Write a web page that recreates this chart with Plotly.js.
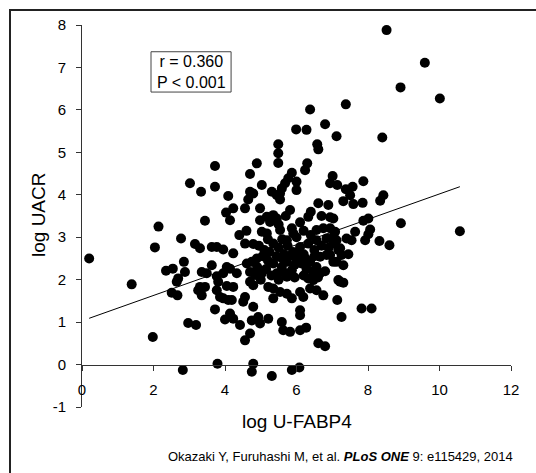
<!DOCTYPE html>
<html>
<head>
<meta charset="utf-8">
<script src="https://cdn.plot.ly/plotly-3.0.1.min.js"></script>
<style>html,body{margin:0;padding:0;background:#fff;}#chart{width:536px;height:473px;}</style>
</head>
<body>
<div id="chart"></div>
<script>
// log U-FABP4 (x) and log UACR (y)
const xValues = [
0.20,1.39,1.98,2.04,2.14,2.35,2.54,2.77,2.85,2.88,2.69,2.65,2.51,2.67,2.97,3.19,2.82,3.79,
3.02,3.33,3.72,3.72,4.09,4.03,4.14,3.44,3.16,3.30,3.63,3.77,3.95,3.63,3.35,3.49,4.05,3.95,
3.77,3.81,3.77,3.30,3.44,3.25,3.35,4.05,3.95,4.09,3.72,4.00,
6.38,5.99,6.28,6.80,7.12,5.49,5.49,5.49,6.58,6.61,4.89,4.70,6.30,6.24,5.87,5.77,5.68,6.00,
6.00,5.59,5.54,5.03,5.31,5.45,5.54,4.70,4.79,4.65,4.56,4.23,4.98,5.17,5.35,5.26,4.98,5.45,
5.82,6.33,6.61,6.89,6.70,6.94,5.03,5.17,5.54,5.87,5.91,6.56,6.75,
4.56,4.79,5.35,5.73,6.10,6.33,6.56,6.84,7.03,4.23,4.75,4.61,4.89,5.45,5.35,5.59,5.73,6.00,
6.14,6.38,6.66,6.84,7.03,4.14,4.33,4.70,4.84,5.03,5.45,5.63,5.87,5.73,6.28,6.56,6.66,6.33,
6.47,7.17,4.70,4.79,4.23,5.21,5.35,5.54,5.73,5.87,5.35,6.10,6.19,6.38,6.56,6.75,3.86,4.19,
4.56,4.79,4.51,6.10,6.10,4.14,4.23,4.75,4.93,4.98,5.21,4.42,5.59,5.63,5.82,6.10,6.27,4.70,
4.56,6.61,6.80,4.79,4.75,5.31,5.87,6.08,
8.52,9.59,8.91,10.01,7.38,8.40,7.01,6.94,7.14,7.38,7.57,7.50,7.87,8.43,8.34,7.31,7.59,7.85,
7.03,7.87,8.01,8.92,10.57,6.94,7.08,7.03,7.12,7.64,8.06,8.01,7.40,7.54,7.92,8.32,8.60,7.22,
6.94,7.17,7.26,7.45,7.12,7.31,7.22,7.31,7.14,7.82,8.10,7.26,
4.40,4.60,5.10,5.25,5.50,5.65,5.90,5.20,5.60,6.00,6.20,5.95,5.15,6.50,6.70,6.20,6.40,
5.05,5.20,5.60,5.80,6.05,6.25,6.50,6.45,6.20,5.95,5.50,5.00,4.90,5.30,6.80,6.60,6.90,5.75,
4.95,5.50,6.10,6.40,5.70
];
const yValues = [
2.50,1.89,0.65,2.76,3.25,2.21,2.26,2.97,2.42,2.18,2.03,1.95,1.69,1.63,0.98,0.93,-0.13,0.02,
4.27,4.07,4.68,4.19,3.97,3.58,3.40,3.39,2.84,2.74,2.77,2.77,2.71,2.34,2.18,2.15,2.30,2.15,
2.08,1.95,1.75,1.83,1.83,1.75,1.63,1.85,1.56,1.52,1.30,1.06,
6.01,5.54,5.53,5.66,5.38,5.19,4.98,4.75,5.19,5.07,4.74,4.49,4.74,4.58,4.52,4.39,4.27,4.31,
4.11,4.15,4.03,4.23,4.07,3.99,3.89,4.07,4.03,3.89,3.68,3.68,3.68,3.48,3.52,3.36,3.40,3.44,
3.64,3.48,3.80,3.76,3.50,3.47,3.13,3.09,3.17,3.21,3.09,3.17,3.21,
2.85,2.84,2.85,2.93,2.77,2.85,2.93,2.97,2.85,2.62,2.42,2.38,2.50,2.54,2.38,2.30,2.42,2.50,
2.38,2.42,2.54,2.58,2.42,2.26,2.15,2.18,2.11,2.15,2.15,2.18,2.22,2.07,2.26,2.30,2.15,2.03,
1.99,1.99,1.95,1.87,1.83,1.83,1.79,1.71,1.67,1.56,1.56,1.71,1.59,1.79,1.75,1.63,1.59,1.52,
1.59,1.36,1.48,1.28,1.16,1.20,1.08,1.04,1.12,0.97,1.08,0.93,1.00,0.81,0.77,0.81,0.87,0.73,
0.57,0.50,0.43,0.02,-0.17,-0.27,-0.13,-0.07,
7.88,7.11,6.53,6.27,6.13,5.35,4.44,4.27,4.23,4.13,4.19,3.99,4.32,3.99,3.86,3.85,3.78,3.81,
3.44,3.39,3.44,3.33,3.14,3.21,3.13,3.01,2.93,3.13,3.18,3.07,2.97,2.93,2.93,2.91,2.81,2.74,
2.58,2.70,2.58,2.60,2.42,2.34,1.95,1.93,1.52,1.32,1.32,1.12,
3.05,3.15,2.70,2.65,2.75,2.60,2.65,2.95,2.95,3.00,2.60,2.35,2.25,2.70,2.80,3.15,3.05,
2.55,2.45,2.50,2.55,2.65,2.50,2.55,2.20,2.10,2.05,2.00,2.00,2.30,2.10,2.20,2.05,2.75,2.80,
2.80,3.30,3.35,3.60,3.50
];
const xTicks = [0, 2, 4, 6, 8, 10, 12];
const yTicks = [-1, 0, 1, 2, 3, 4, 5, 6, 7, 8];
const rText = "r = 0.360";
const pText = "P < 0.001";
const fitIntercept = 1.03;
const fitSlope = 0.299;
const xTitle = "log U-FABP4";
const yTitle = "log UACR";
const citation = "Okazaki Y, Furuhashi M, et al. <b><i>PLoS ONE</i></b> 9: e115429, 2014";

const xMin = Math.min(...xValues), xMax = Math.max(...xValues);
const fitX = [xMin, xMax];
const fitY = fitX.map(v => fitIntercept + fitSlope * v);

const FONT = "Liberation Sans, Arial, Helvetica, sans-serif";

const traces = [
  {x: xValues, y: yValues, type: 'scatter', mode: 'markers',
   marker: {color: '#000', size: 10, line: {width: 0}}, hoverinfo: 'x+y'},
  {x: fitX, y: fitY, type: 'scatter', mode: 'lines',
   line: {color: '#000', width: 1}, hoverinfo: 'skip'}
];

const layout = {
  width: 536, height: 473,
  margin: {l: 82, r: 25, t: 25, b: 66, pad: 0},
  paper_bgcolor: '#fff', plot_bgcolor: 'rgba(0,0,0,0)',
  showlegend: false,
  font: {family: FONT, color: '#000', size: 15},
  xaxis: {
    range: [0, 12], tickvals: xTicks, ticktext: xTicks.map(String),
    showgrid: false, zeroline: false, showline: true, linecolor: '#333', linewidth: 1,
    ticks: 'outside', ticklen: 5, tickcolor: '#333', tickwidth: 1,
    anchor: 'free', position: 1/9, ticklabelstandoff: 6,
    tickfont: {family: FONT, size: 15, color: '#000'}
  },
  yaxis: {
    range: [-1, 8], tickvals: yTicks, ticktext: yTicks.map(String),
    showgrid: false, zeroline: false, showline: true, linecolor: '#333', linewidth: 1,
    ticks: 'outside', ticklen: 5, tickcolor: '#333', tickwidth: 1,
    ticklabelstandoff: 7,
    tickfont: {family: FONT, size: 15, color: '#000'}
  },
  shapes: [
    {type: 'rect', xref: 'paper', yref: 'paper',
     x0: (10 - 82) / 429, x1: (545 - 82) / 429, y0: (407 - 485) / 382, y1: (407 - 10) / 382,
     line: {color: '#222', width: 2}, fillcolor: 'rgba(0,0,0,0)', layer: 'below'},
    {type: 'rect', xref: 'x', yref: 'y', x0: 1.93, x1: 4.17, y0: 6.42, y1: 7.37,
     line: {color: '#444', width: 1}, fillcolor: '#fff', layer: 'above'}
  ],
  annotations: [
    {xref: 'x', yref: 'y', x: 3.05, y: 6.895, text: rText + '<br>' + pText, showarrow: false,
     align: 'center', xanchor: 'center', yanchor: 'middle',
     font: {family: FONT, size: 16, color: '#000'}},
    {xref: 'paper', yref: 'paper', x: (297 - 82) / 429, y: (407 - 421) / 382,
     text: xTitle, showarrow: false, xanchor: 'center', yanchor: 'middle',
     font: {family: FONT, size: 19, color: '#000'}},
    {xref: 'paper', yref: 'paper', x: (38 - 82) / 429, y: (407 - 215) / 382,
     text: yTitle, showarrow: false, xanchor: 'center', yanchor: 'middle', textangle: -90,
     font: {family: FONT, size: 19, color: '#000'}},
    {xref: 'paper', yref: 'paper', x: (515 - 82) / 429, y: (407 - 456) / 382,
     text: citation, showarrow: false, xanchor: 'right', yanchor: 'middle',
     font: {family: FONT, size: 13, color: '#000'}}
  ]
};

Plotly.newPlot('chart', traces, layout, {displayModeBar: false, staticPlot: true});
</script>
</body>
</html>
